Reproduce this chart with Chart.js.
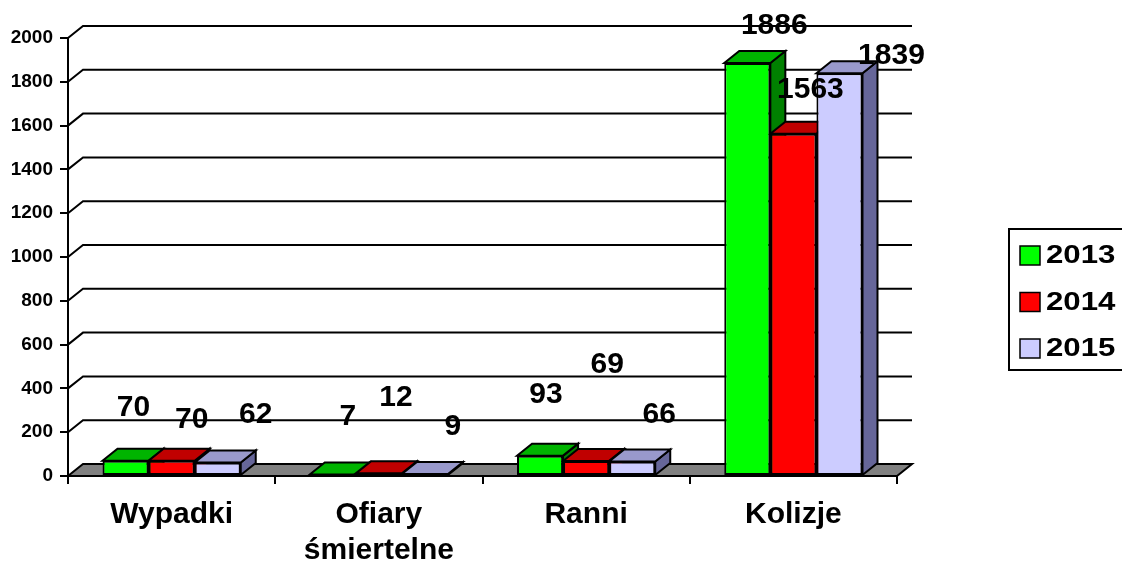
<!DOCTYPE html>
<html>
<head>
<meta charset="utf-8">
<script src="https://cdn.jsdelivr.net/npm/chart.js@4/dist/chart.umd.min.js"></script>
<style>
  html, body { margin: 0; padding: 0; background: #fff; }
  #wrap { width: 1122px; height: 565px; }
</style>
</head>
<body>
<div id="wrap"><canvas id="chart" width="1122" height="565"></canvas></div>
<script>
// Chart data
const categories = ['Wypadki', ['Ofiary', 'śmiertelne'], 'Ranni', 'Kolizje'];
const seriesNames = ['2013', '2014', '2015'];
const values2013 = [70, 7, 93, 1886];
const values2014 = [70, 12, 69, 1563];
const values2015 = [62, 9, 66, 1839];
const yMin = 0;
const yMax = 2000;
const yStep = 200;

// Styling
const FONT = '"Liberation Sans", Arial, sans-serif';
const frontColors = ['#00FF00', '#FF0000', '#CCCCFF'];
const topColors = ['#00B400', '#C00000', '#9999CC'];
const sideColors = ['#008000', '#800000', '#666699'];
const DX = 15;   // 3d depth, horizontal
const DY = 12;   // 3d depth, vertical

// label nudges (dx, dy from bar top centre) to mimic Excel's 3d label placement
const labelNudge = [
  [[8, -53], [15, -58], [6, -61], [27, -37]],
  [[20, -41], [17, -76], [21, -96], [17, -44]],
  [[38, -48], [28, -47], [27, -47], [52, -18]]
];

function poly(ctx, pts, fill) {
  ctx.beginPath();
  ctx.moveTo(pts[0][0], pts[0][1]);
  for (let k = 1; k < pts.length; k++) ctx.lineTo(pts[k][0], pts[k][1]);
  ctx.closePath();
  ctx.fillStyle = fill;
  ctx.fill();
  ctx.stroke();
}

const bar3d = {
  id: 'bar3d',
  beforeDatasetsDraw(chart) {
    const { ctx, chartArea, scales } = chart;
    const y = scales.y;
    ctx.save();
    ctx.strokeStyle = '#000';
    ctx.lineWidth = 2;

    // back wall gridlines
    y.ticks.forEach(t => {
      if (t.value === yMin) return;
      const py = y.getPixelForValue(t.value);
      ctx.beginPath();
      ctx.moveTo(chartArea.left, py);
      ctx.lineTo(chartArea.left + DX, py - DY);
      ctx.lineTo(chartArea.right + DX, py - DY);
      ctx.stroke();
    });

    // floor
    const base = y.getPixelForValue(yMin);
    poly(ctx, [
      [chartArea.left, base], [chartArea.right, base],
      [chartArea.right + DX, base - DY], [chartArea.left + DX, base - DY]
    ], '#808080');

    // tops and sides, left to right
    for (let j = 0; j < categories.length; j++) {
      chart.data.datasets.forEach((ds, i) => {
        const el = chart.getDatasetMeta(i).data[j];
        const l = el.x - el.width / 2, r = el.x + el.width / 2;
        const t = el.y, b = el.base;
        poly(ctx, [[r, t], [r + DX, t - DY], [r + DX, b - DY], [r, b]], sideColors[i]);
        poly(ctx, [[l, t], [r, t], [r + DX, t - DY], [l + DX, t - DY]], topColors[i]);
      });
    }
    ctx.restore();
  },
  afterDatasetsDraw(chart) {
    const { ctx } = chart;
    ctx.save();
    ctx.fillStyle = '#000';
    ctx.font = 'bold 30px ' + FONT;
    ctx.textAlign = 'center';
    ctx.textBaseline = 'middle';
    chart.data.datasets.forEach((ds, i) => {
      chart.getDatasetMeta(i).data.forEach((el, j) => {
        const n = labelNudge[i][j];
        ctx.fillText(String(ds.data[j]), el.x + n[0], el.y + n[1]);
      });
    });
    ctx.restore();
  },
  afterDraw(chart) {
    // legend with frame
    const { ctx } = chart;
    ctx.save();
    ctx.strokeStyle = '#000';
    ctx.lineWidth = 2;
    ctx.strokeRect(1009, 229, 130, 141);
    ctx.font = 'bold 26px ' + FONT;
    ctx.textAlign = 'left';
    ctx.textBaseline = 'middle';
    chart.data.datasets.forEach((ds, i) => {
      const cy = 255 + i * 46.5;
      ctx.fillStyle = frontColors[i];
      ctx.fillRect(1020, cy - 9, 20, 19);
      ctx.lineWidth = 1.5;
      ctx.strokeRect(1020, cy - 9, 20, 19);
      ctx.fillStyle = '#000';
      ctx.save();
      ctx.translate(1046, cy + 1);
      ctx.scale(1.2, 1);
      ctx.fillText(ds.label, 0, 0);
      ctx.restore();
    });
    ctx.restore();
  }
};

const seriesValues = [values2013, values2014, values2015];

new Chart(document.getElementById('chart'), {
  type: 'bar',
  data: {
    labels: categories,
    datasets: seriesNames.map((name, i) => ({
      label: name,
      data: seriesValues[i],
      backgroundColor: frontColors[i],
      borderColor: '#000',
      borderWidth: 2,
      borderSkipped: false,
      categoryPercentage: 0.667,
      barPercentage: 1.0
    }))
  },
  options: {
    responsive: false,
    animation: false,
    devicePixelRatio: 1,
    layout: { padding: { left: 0, top: 38, right: 225, bottom: 0 } },
    plugins: {
      legend: { display: false },
      tooltip: { enabled: false },
      title: { display: false }
    },
    scales: {
      x: {
        grid: { drawOnChartArea: false, drawTicks: true, tickLength: 8, color: '#000', lineWidth: 2 },
        border: { display: true, color: '#000', width: 2 },
        ticks: {
          color: '#000',
          padding: 13,
          maxRotation: 0,
          autoSkip: false,
          font: { family: FONT, size: 30, weight: 'bold', lineHeight: 1.2 }
        },
        afterFit(scale) { scale.height = 89; }
      },
      y: {
        min: yMin,
        max: yMax,
        grid: { drawOnChartArea: false, drawTicks: true, tickLength: 8, color: '#000', lineWidth: 2 },
        border: { display: true, color: '#000', width: 2 },
        ticks: {
          stepSize: yStep,
          color: '#000',
          padding: 7,
          font: { family: FONT, size: 19, weight: 'bold' },
          callback: value => String(value)
        },
        afterFit(scale) { scale.width = 68; }
      }
    }
  },
  plugins: [bar3d]
});
</script>
</body>
</html>
